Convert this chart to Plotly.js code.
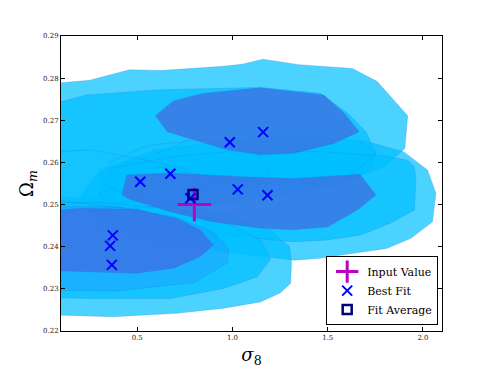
<!DOCTYPE html>
<html>
<head>
<meta charset="utf-8">
<script src="https://cdn.plot.ly/plotly-3.0.1.min.js"></script>
<style>
  body { margin: 0; background: #fff; }
  #chart { width: 491px; height: 368px; }
</style>
</head>
<body>
<div id="chart"></div>
<script>
// ===== marker data =====
var inputX = [0.80]
var inputY = [0.250]

var bestFitX = [0.516, 0.674, 0.779, 1.028, 1.184, 0.372, 0.358, 0.367, 0.986, 1.161]
var bestFitY = [0.2554, 0.2573, 0.2515, 0.2536, 0.2522, 0.2427, 0.2402, 0.2357, 0.2648, 0.2672]

var avgX = [0.793]
var avgY = [0.2524]

// ===== contour outlines (sigma_8, Omega_m) =====
var topOuterX = [-0.1, 0.1, 0.25, 0.46, 0.62, 0.95, 1.05, 1.16, 1.35, 1.63, 1.76, 1.92, 1.905, 1.80, 1.5, 1.0, 0.5, 0.1, -0.1]
var topOuterY = [0.279, 0.2789, 0.2795, 0.2820, 0.2818, 0.2828, 0.2833, 0.2845, 0.2832, 0.2823, 0.2792, 0.2711, 0.2633, 0.2590, 0.2540, 0.2505, 0.2490, 0.2480, 0.2480]

var topSecondX = [-0.1, 0.1, 0.235, 0.6, 1.147, 1.46, 1.604, 1.70, 1.753, 1.726, 1.6, 1.3, 1.0, 0.5, 0.1, -0.1]
var topSecondY = [0.2744, 0.2744, 0.2760, 0.2772, 0.2778, 0.2764, 0.2717, 0.2673, 0.2622, 0.2582, 0.2555, 0.2535, 0.2520, 0.2505, 0.2500, 0.2500]

var midOuterX = [0.30, 0.60, 1.0, 1.4, 1.7, 1.90, 2.024, 2.068, 2.05, 1.937, 1.81, 1.62, 1.446, 1.32, 1.0, 0.6, 0.30, 0.20]
var midOuterY = [0.2580, 0.2630, 0.2655, 0.2665, 0.2650, 0.2625, 0.2582, 0.2527, 0.2459, 0.2420, 0.2396, 0.2384, 0.2372, 0.2368, 0.2385, 0.2410, 0.2450, 0.2520]

var midSecondX = [0.35, 0.7, 1.1, 1.5, 1.8, 1.92, 1.955, 1.963, 1.955, 1.83, 1.674, 1.5, 1.32, 1.0, 0.6, 0.35, 0.30]
var midSecondY = [0.2585, 0.2615, 0.2630, 0.2625, 0.2615, 0.2605, 0.2590, 0.2558, 0.2487, 0.2456, 0.2428, 0.2416, 0.2412, 0.2425, 0.2445, 0.2480, 0.2530]

var botOuterX = [-0.1, 0.1, 0.375, 0.709, 0.954, 1.147, 1.25, 1.305, 1.31, 1.30, 1.2, 1.0, 0.7, 0.4, 0.1, -0.1]
var botOuterY = [0.2240, 0.2238, 0.2234, 0.2242, 0.2254, 0.2269, 0.2290, 0.2313, 0.2360, 0.2400, 0.2440, 0.2475, 0.2505, 0.2515, 0.2520, 0.2520]

var botSecondX = [-0.1, 0.27, 0.674, 0.954, 1.13, 1.2, 1.15, 1.0, 0.7, 0.3, -0.1]
var botSecondY = [0.2281, 0.2277, 0.2277, 0.2301, 0.2329, 0.2370, 0.2415, 0.2450, 0.2490, 0.2505, 0.2505]

var botMidX = [-0.1, 0.4, 0.8, 0.972, 0.98, 0.9, 0.7, 0.4, -0.1]
var botMidY = [0.2297, 0.2295, 0.2315, 0.2361, 0.2395, 0.2435, 0.2470, 0.2495, 0.2495]

var botDarkX = [-0.1, 0.2, 0.498, 0.709, 0.83, 0.90, 0.83, 0.69, 0.498, 0.27, -0.1]
var botDarkY = [0.2479, 0.2491, 0.2489, 0.2467, 0.2440, 0.2404, 0.2376, 0.2349, 0.2337, 0.2341, 0.2345]

var midDarkX = [0.42, 0.446, 0.674, 1.06, 1.32, 1.67, 1.753, 1.656, 1.5, 1.32, 1.147, 0.884, 0.674, 0.446]
var midDarkY = [0.2523, 0.2570, 0.2575, 0.2566, 0.2562, 0.2572, 0.2523, 0.2487, 0.2447, 0.2440, 0.2444, 0.2460, 0.2483, 0.2515]

var topDarkX = [0.595, 0.69, 0.849, 1.147, 1.48, 1.586, 1.665, 1.533, 1.323, 1.147, 0.972, 0.83, 0.656]
var topDarkY = [0.2711, 0.2746, 0.2764, 0.2777, 0.2760, 0.2717, 0.2673, 0.2645, 0.2622, 0.2618, 0.2630, 0.2649, 0.2673]

// faint outlines of the other fits' contours
var ringAX = [0.35, 0.55, 0.85, 1.1, 1.2, 1.1, 0.85, 0.55, 0.35, 0.3]
var ringAY = [0.2600, 0.2640, 0.2655, 0.2640, 0.2580, 0.2520, 0.2500, 0.2510, 0.2540, 0.2570]
var ringBX = [-0.1, 0.25, 0.5, 0.75, 0.85, 0.7, 0.45, 0.2, -0.1]
var ringBY = [0.2620, 0.2630, 0.2610, 0.2585, 0.2540, 0.2500, 0.2490, 0.2505, 0.2520]
var ringCX = [0.6, 0.9, 1.3, 1.6, 1.75, 1.6, 1.3, 0.9, 0.6]
var ringCY = [0.2620, 0.2680, 0.2700, 0.2680, 0.2620, 0.2560, 0.2545, 0.2565, 0.2590]

var light = 'rgba(0,191,255,0.7)'
var mid = 'rgba(30,144,255,0.35)'
var dark = 'rgba(65,105,225,0.72)'
var faint = 'rgba(0,191,255,0.12)'

function blob(xs, ys, color) {
  return {
    x: xs, y: ys,
    type: 'scatter', mode: 'lines',
    fill: 'toself', fillcolor: color,
    line: {color: 'rgba(40,120,220,0.35)', width: 0.7},
    hoverinfo: 'skip', showlegend: false
  }
}

var data = [
  blob(topOuterX, topOuterY, light),
  blob(midOuterX, midOuterY, light),
  blob(botOuterX, botOuterY, light),
  blob(topSecondX, topSecondY, light),
  blob(midSecondX, midSecondY, light),
  blob(botSecondX, botSecondY, light),
  blob(ringAX, ringAY, faint),
  blob(ringBX, ringBY, faint),
  blob(ringCX, ringCY, faint),
  blob(botMidX, botMidY, mid),
  blob(topDarkX, topDarkY, dark),
  blob(midDarkX, midDarkY, dark),
  blob(botDarkX, botDarkY, dark),
  {
    x: inputX, y: inputY, name: 'Input Value',
    type: 'scatter', mode: 'markers',
    marker: {symbol: 'cross-thin', size: 24, line: {color: '#BF00BF', width: 3}, color: '#BF00BF'}
  },
  {
    x: bestFitX, y: bestFitY, name: 'Best Fit',
    type: 'scatter', mode: 'markers',
    marker: {symbol: 'x-thin', size: 10, line: {color: '#0000FF', width: 2}, color: '#0000FF'}
  },
  {
    x: avgX, y: avgY, name: 'Fit Average',
    type: 'scatter', mode: 'markers',
    marker: {symbol: 'square-open', size: 9, line: {color: '#000080', width: 2.5}, color: '#000080'}
  }
]

var tickFont = {family: 'DejaVu Serif', size: 7, color: '#222'}

var layout = {
  width: 491,
  height: 368,
  margin: {l: 61, r: 49, t: 36, b: 37},
  paper_bgcolor: '#fff',
  plot_bgcolor: '#fff',
  xaxis: {
    range: [0.1, 2.1],
    tickvals: [0.5, 1.0, 1.5, 2.0],
    tickformat: '.1f',
    ticks: 'inside', ticklen: 4, tickcolor: '#000',
    showline: true, linecolor: '#000', linewidth: 1, mirror: 'ticks',
    showgrid: false, zeroline: false,
    tickfont: tickFont,
    title: {text: '<i>σ</i><sub>8</sub>', font: {family: 'DejaVu Serif', size: 18, color: '#000'}, standoff: 8}
  },
  yaxis: {
    range: [0.22, 0.29],
    dtick: 0.01,
    tickformat: '.2f',
    ticks: 'inside', ticklen: 4, tickcolor: '#000',
    showline: true, linecolor: '#000', linewidth: 1, mirror: 'ticks',
    showgrid: false, zeroline: false,
    tickfont: tickFont,
    title: {text: 'Ω<sub><i>m</i></sub>', font: {family: 'DejaVu Serif', size: 18, color: '#000'}, standoff: 4}
  },
  legend: {
    x: 0.99, xanchor: 'right',
    y: 0.02, yanchor: 'bottom',
    bgcolor: '#fff', bordercolor: '#000', borderwidth: 1,
    font: {family: 'DejaVu Serif', size: 11, color: '#000'}
  },
  showlegend: true
}

Plotly.newPlot('chart', data, layout, {displayModeBar: false})
</script>
</body>
</html>
